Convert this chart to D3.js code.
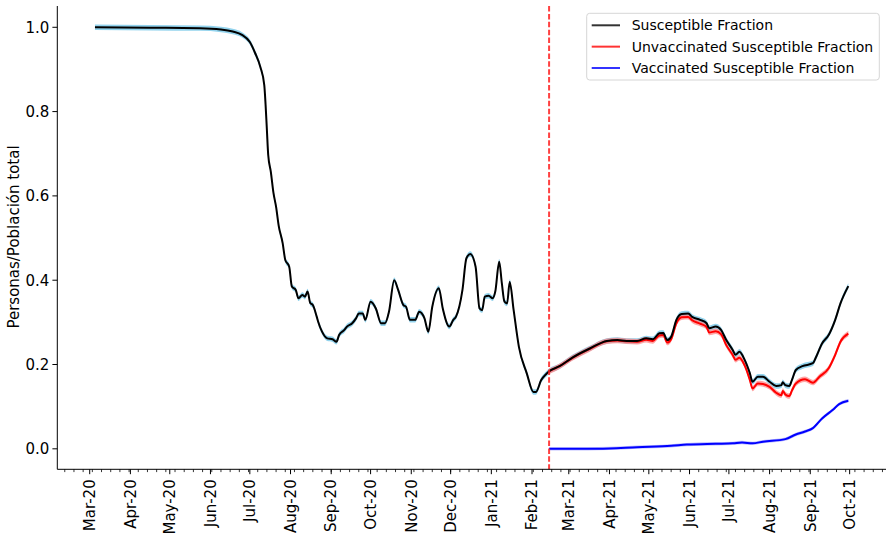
<!DOCTYPE html>
<html>
<head>
<meta charset="utf-8">
<script src="https://cdn.jsdelivr.net/npm/d3@7"></script>
<style>
  body { margin: 0; background: #fff; }
  text { font-family: "DejaVu Sans", sans-serif; fill: #000; }
</style>
</head>
<body>
<svg id="chart" width="892" height="539"></svg>
<script>
// Susceptible fraction (black line)
var susDates = ["2020-03-05","2020-04-16","2020-05-24","2020-06-09","2020-06-18","2020-06-25","2020-07-01","2020-07-05","2020-07-09","2020-07-12",
  "2020-07-13","2020-07-14","2020-07-15","2020-07-17","2020-07-19","2020-07-21","2020-07-23","2020-07-26","2020-07-28","2020-07-31",
  "2020-08-02","2020-08-05","2020-08-07","2020-08-10","2020-08-12","2020-08-14","2020-08-16","2020-08-18","2020-08-21","2020-08-22",
  "2020-08-25","2020-08-29","2020-09-02","2020-09-05","2020-09-07","2020-09-11","2020-09-13","2020-09-17","2020-09-20","2020-09-22",
  "2020-09-25","2020-09-27","2020-10-01","2020-10-05","2020-10-09","2020-10-12","2020-10-15","2020-10-19","2020-10-22","2020-10-26",
  "2020-10-28","2020-10-31","2020-11-04","2020-11-07","2020-11-11","2020-11-14","2020-11-17","2020-11-22","2020-11-25","2020-11-30",
  "2020-12-03","2020-12-05","2020-12-10","2020-12-13","2020-12-16","2020-12-20","2020-12-23","2020-12-25","2020-12-27","2020-12-30",
  "2021-01-02","2021-01-04","2021-01-07","2021-01-09","2021-01-11","2021-01-13","2021-01-15","2021-01-18","2021-01-22","2021-01-28",
  "2021-02-02","2021-02-04","2021-02-08","2021-02-12","2021-02-14","2021-02-22","2021-03-04","2021-03-17","2021-03-30","2021-04-07",
  "2021-04-14","2021-04-22","2021-04-29","2021-05-04","2021-05-09","2021-05-12","2021-05-15","2021-05-18","2021-05-22","2021-05-26",
  "2021-05-31","2021-06-03","2021-06-09","2021-06-14","2021-06-16","2021-06-21","2021-06-25","2021-06-29","2021-07-04","2021-07-06",
  "2021-07-09","2021-07-13","2021-07-17","2021-07-19","2021-07-23","2021-07-27","2021-08-01","2021-08-06","2021-08-10","2021-08-11",
  "2021-08-13","2021-08-16","2021-08-18","2021-08-21","2021-08-26","2021-09-03","2021-09-05","2021-09-10","2021-09-15","2021-09-20",
  "2021-09-24","2021-09-30"];
var susValues = [1.000,0.999,0.998,0.995,0.990,0.982,0.965,0.939,0.906,0.863,
  0.816,0.756,0.697,0.657,0.607,0.574,0.529,0.488,0.448,0.432,
  0.385,0.377,0.357,0.365,0.361,0.373,0.346,0.341,0.313,0.302,
  0.278,0.262,0.260,0.254,0.270,0.282,0.290,0.298,0.310,0.321,
  0.321,0.306,0.349,0.333,0.298,0.298,0.325,0.400,0.377,0.341,
  0.337,0.306,0.306,0.325,0.310,0.278,0.337,0.381,0.333,0.290,
  0.306,0.313,0.377,0.452,0.462,0.432,0.333,0.329,0.361,0.363,
  0.357,0.373,0.444,0.393,0.349,0.345,0.396,0.329,0.242,0.179,
  0.135,0.135,0.163,0.178,0.184,0.196,0.217,0.238,0.256,0.258,
  0.256,0.256,0.262,0.260,0.274,0.275,0.258,0.266,0.306,0.320,
  0.321,0.313,0.306,0.298,0.286,0.290,0.282,0.258,0.234,0.223,
  0.230,0.211,0.179,0.159,0.171,0.171,0.159,0.149,0.151,0.158,
  0.151,0.149,0.163,0.187,0.196,0.203,0.215,0.250,0.270,0.306,
  0.345,0.386];

// Unvaccinated susceptible fraction (red line)
var unvDates = ["2021-02-14","2021-02-22","2021-03-04","2021-03-17","2021-03-30","2021-04-07","2021-04-14","2021-04-22","2021-04-29","2021-05-04",
  "2021-05-09","2021-05-12","2021-05-15","2021-05-18","2021-05-22","2021-05-26","2021-05-31","2021-06-03","2021-06-09","2021-06-14",
  "2021-06-16","2021-06-21","2021-06-25","2021-06-29","2021-07-04","2021-07-06","2021-07-09","2021-07-13","2021-07-17","2021-07-19",
  "2021-07-23","2021-07-27","2021-08-01","2021-08-06","2021-08-10","2021-08-11","2021-08-13","2021-08-16","2021-08-18","2021-08-21",
  "2021-08-28","2021-09-03","2021-09-08","2021-09-15","2021-09-20","2021-09-24","2021-09-30"];
var unvValues = [0.184,0.196,0.216,0.237,0.255,0.257,0.255,0.254,0.259,0.256,
  0.269,0.270,0.252,0.260,0.298,0.312,0.313,0.305,0.297,0.289,
  0.276,0.279,0.272,0.246,0.222,0.211,0.216,0.198,0.163,0.143,
  0.155,0.154,0.147,0.133,0.127,0.137,0.129,0.125,0.138,0.155,
  0.165,0.157,0.171,0.191,0.223,0.254,0.273];

// Vaccinated susceptible fraction (blue line)
var vacDates = ["2021-02-14","2021-03-15","2021-04-01","2021-04-22","2021-05-18","2021-05-30","2021-06-21","2021-07-04","2021-07-11","2021-07-19",
  "2021-07-27","2021-08-13","2021-08-21","2021-08-28","2021-09-03","2021-09-10","2021-09-18","2021-09-23","2021-09-30"];
var vacValues = [0.000,0.000,0.001,0.004,0.007,0.010,0.012,0.013,0.015,0.013,
  0.017,0.023,0.034,0.041,0.049,0.072,0.092,0.106,0.114];

var bandHalf = [0.0065, 0.0065, 0.004];   // half-width of the shaded bands (sus, unv, vac)
var vaccStart = "2021-02-14";
var yTicks = [0.0, 0.2, 0.4, 0.6, 0.8, 1.0];
var legendLabels = ["Susceptible Fraction", "Unvaccinated Susceptible Fraction", "Vaccinated Susceptible Fraction"];

var parse = d3.timeParse("%Y-%m-%d");
function series(dates, values) {
  return dates.map(function(d, i) { return { date: parse(d), value: values[i] }; });
}
var sus = series(susDates, susValues);
var unv = series(unvDates, unvValues);
var vac = series(vacDates, vacValues);

var svg = d3.select("#chart");
var margin = { top: 6, right: 6, bottom: 69.7, left: 57.3 };
var width = 892 - margin.left - margin.right;
var height = 539 - margin.top - margin.bottom;
var g = svg.append("g").attr("transform", "translate(" + margin.left + "," + margin.top + ")");

// matplotlib-like 5% margins on x
var ext = d3.extent(sus, function(d) { return d.date; });
var pad = (ext[1] - ext[0]) * 0.05;
var x = d3.scaleTime()
  .domain([new Date(+ext[0] - pad), new Date(+ext[1] + pad)])
  .range([0, width]);
var y = d3.scaleLinear().domain([-0.0486, 1.0505]).range([height, 0]);

var line = d3.line()
  .x(function(d) { return x(d.date); })
  .y(function(d) { return y(d.value); })
  .curve(d3.curveMonotoneX);
function area(h) {
  return d3.area()
    .x(function(d) { return x(d.date); })
    .y0(function(d) { return y(d.value - h); })
    .y1(function(d) { return y(d.value + h); })
    .curve(d3.curveMonotoneX);
}

// bands
g.append("path").datum(sus).attr("d", area(bandHalf[0])).attr("fill", "#87ceeb").attr("opacity", 0.9);
g.append("path").datum(unv).attr("d", area(bandHalf[1])).attr("fill", "#ff8080").attr("opacity", 0.7);
g.append("path").datum(vac).attr("d", area(bandHalf[2])).attr("fill", "#8080ff").attr("opacity", 0.5);

// lines
g.append("path").datum(unv).attr("d", line).attr("fill", "none").attr("stroke", "#ff0000").attr("stroke-width", 2);
g.append("path").datum(vac).attr("d", line).attr("fill", "none").attr("stroke", "#0000ff").attr("stroke-width", 2);
g.append("path").datum(sus).attr("d", line).attr("fill", "none").attr("stroke", "#000000").attr("stroke-width", 2);

// vaccination start marker
g.append("line")
  .attr("x1", x(parse(vaccStart))).attr("x2", x(parse(vaccStart)))
  .attr("y1", 0).attr("y2", height)
  .attr("stroke", "#ff2020").attr("stroke-opacity", 0.85)
  .attr("stroke-width", 2).attr("stroke-dasharray", "5.5,2.4");

// x axis
var xAxis = g.append("g").attr("transform", "translate(0," + height + ")");
xAxis.append("line").attr("x1", 0).attr("x2", width).attr("stroke", "#000").attr("stroke-width", 1);
var minor = d3.timeTuesday.range(x.domain()[0], x.domain()[1]);
xAxis.selectAll(".minor").data(minor).enter().append("line")
  .attr("x1", function(d) { return x(d); }).attr("x2", function(d) { return x(d); })
  .attr("y1", 0).attr("y2", 2.8).attr("stroke", "#000").attr("stroke-width", 0.8);
var major = d3.timeMonth.range(d3.timeMonth.ceil(x.domain()[0]), x.domain()[1]);
xAxis.selectAll(".major").data(major).enter().append("line")
  .attr("x1", function(d) { return x(d); }).attr("x2", function(d) { return x(d); })
  .attr("y1", 0).attr("y2", 4.9).attr("stroke", "#000").attr("stroke-width", 1);
var fmt = d3.timeFormat("%b-%y");
xAxis.selectAll(".lbl").data(major).enter().append("text")
  .attr("transform", function(d) { return "translate(" + x(d) + ",10) rotate(-90)"; })
  .attr("text-anchor", "end").attr("dy", "0.35em")
  .style("font-size", "15px")
  .text(function(d) { return fmt(d); });

// y axis
var yAxis = g.append("g");
yAxis.append("line").attr("y1", 0).attr("y2", height).attr("stroke", "#000").attr("stroke-width", 1);
yAxis.selectAll(".tick").data(yTicks).enter().append("line")
  .attr("x1", -4.9).attr("x2", 0)
  .attr("y1", function(d) { return y(d); }).attr("y2", function(d) { return y(d); })
  .attr("stroke", "#000").attr("stroke-width", 1);
yAxis.selectAll(".lbl").data(yTicks).enter().append("text")
  .attr("x", -8).attr("y", function(d) { return y(d); })
  .attr("dy", "0.36em").attr("text-anchor", "end")
  .style("font-size", "15px")
  .text(function(d) { return d.toFixed(1); });

svg.append("text")
  .attr("transform", "translate(19,237) rotate(-90)")
  .attr("text-anchor", "middle")
  .style("font-size", "15px")
  .text("Personas/Población total");

// legend
var leg = svg.append("g").attr("transform", "translate(586.7,13.3)");
leg.append("rect").attr("width", 292.6).attr("height", 66.7).attr("rx", 3)
  .attr("fill", "#fff").attr("fill-opacity", 0.8).attr("stroke", "#d6d6d6").attr("stroke-width", 1);
var legColors = ["#000000", "#ff0000", "#0000ff"];
legendLabels.forEach(function(lbl, i) {
  var yy = 12 + i * 21.35;
  leg.append("line").attr("x1", 5).attr("x2", 33.3).attr("y1", yy).attr("y2", yy)
    .attr("stroke", legColors[i]).attr("stroke-opacity", 0.8).attr("stroke-width", 2);
  leg.append("text").attr("x", 45).attr("y", yy).attr("dy", "0.36em")
    .style("font-size", "14px").text(lbl);
});
</script>
</body>
</html>
